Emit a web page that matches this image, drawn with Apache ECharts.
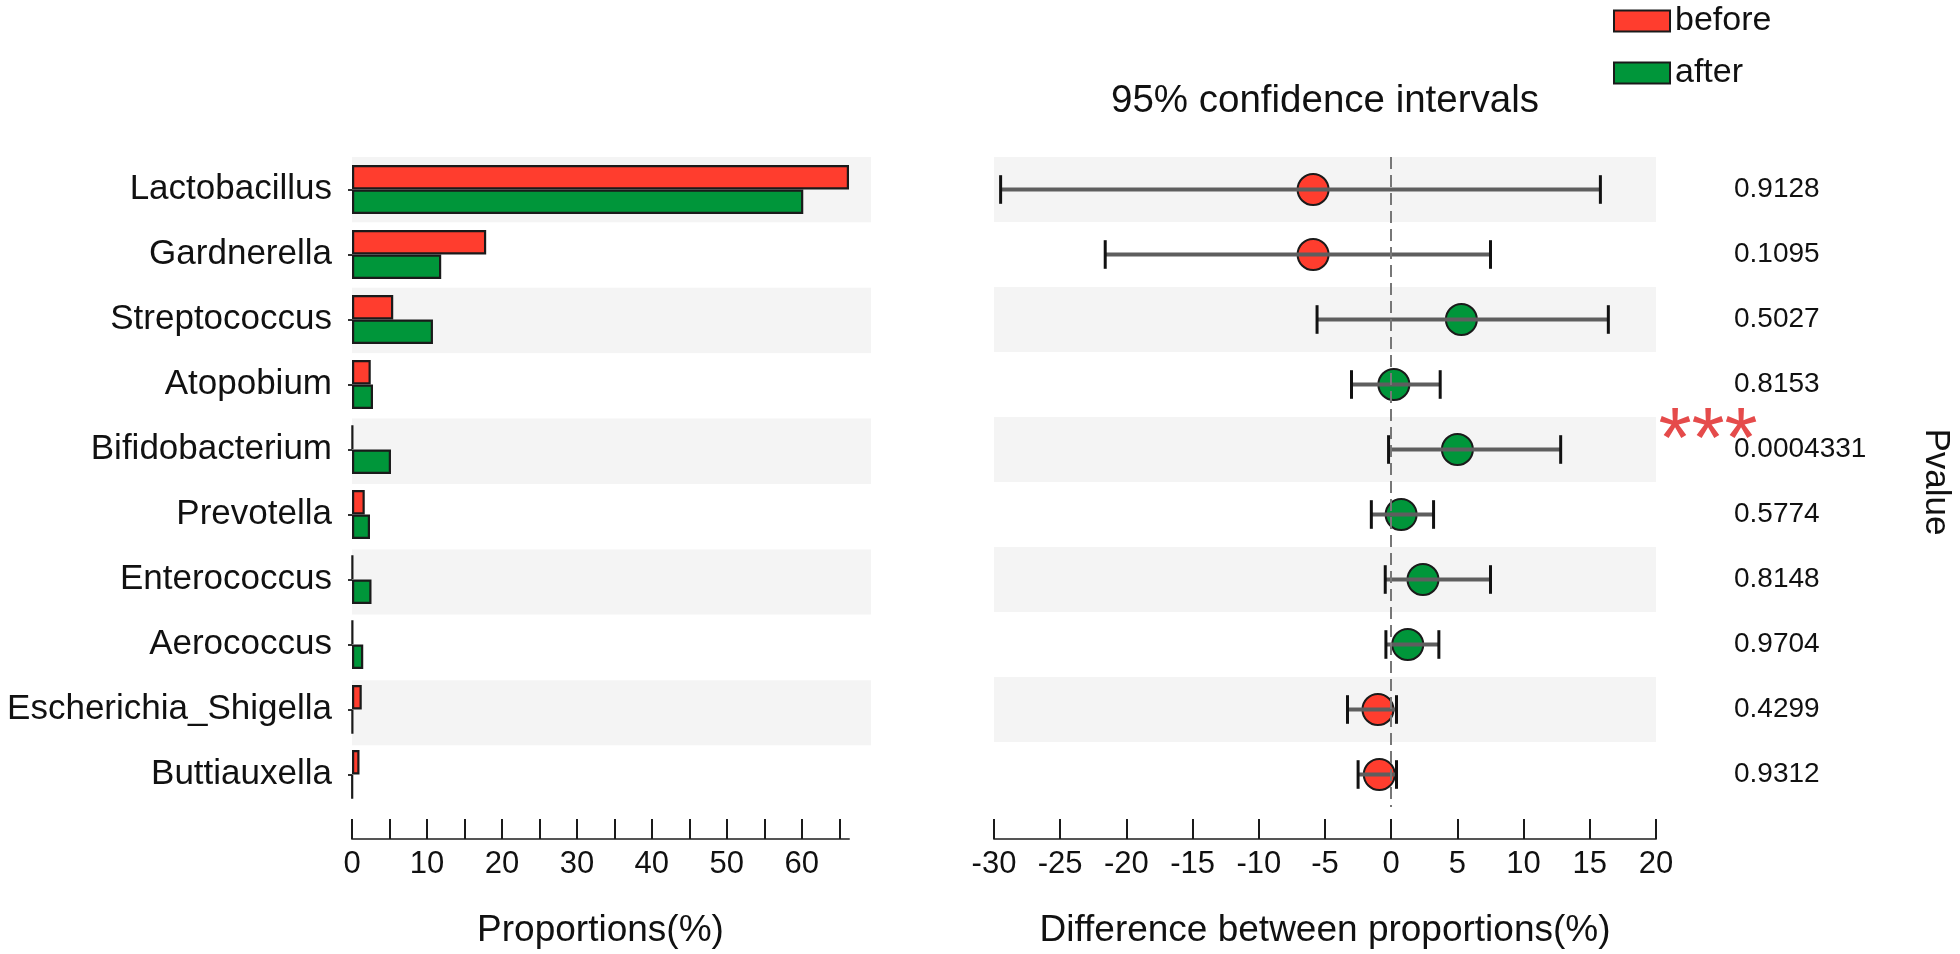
<!DOCTYPE html>
<html>
<head>
<meta charset="utf-8">
<script src="https://cdn.jsdelivr.net/npm/echarts@6/dist/echarts.min.js"></script>
<style>
html,body{margin:0;padding:0;background:#fff;}
#chart{width:1960px;height:954px;}
</style>
</head>
<body>
<div id="chart"></div>
<script>
const categories = ['Lactobacillus','Gardnerella','Streptococcus','Atopobium','Bifidobacterium','Prevotella','Enterococcus','Aerococcus','Escherichia_Shigella','Buttiauxella'];
const beforeVals = [66.3, 17.9, 5.5, 2.5, 0.1, 1.7, 0.1, 0.1, 1.3, 1.0];
const afterVals  = [60.2, 11.9, 10.8, 2.8, 5.2, 2.4, 2.6, 1.5, 0.1, 0.05];
const diffVals = [-5.9, -5.9, 5.3, 0.2, 5.0, 0.75, 2.4, 1.25, -1.0, -0.9];
const ciLow  = [-29.5, -21.6, -5.6, -3.0, -0.2, -1.5, -0.45, -0.4, -3.3, -2.5];
const ciHigh = [15.8, 7.5, 16.4, 3.7, 12.8, 3.2, 7.5, 3.6, 0.4, 0.4];
const pValues = ['0.9128','0.1095','0.5027','0.8153','0.0004331','0.5774','0.8148','0.9704','0.4299','0.9312'];
const sigMarks = ['', '', '', '', '***', '', '', '', '', ''];
const leftTicks = {min: 0, interval: 5};
const rightTicks = {min: -30, max: 20, interval: 5};

const RED = '#ff3d2e', GREEN = '#00963a';
const TXT = '#111111';
const FONT = "'Liberation Sans', Arial, sans-serif";
const chart = echarts.init(document.getElementById('chart'));

const titleGraphic = {type: 'text', x: 1325, y: 101, style: {text: '95% confidence intervals', fontSize: 38.5, fontFamily: FONT, fill: TXT, textAlign: 'center', textVerticalAlign: 'middle'}};

const option = {
  animation: false,
  backgroundColor: '#ffffff',
  textStyle: {fontFamily: FONT, color: TXT},
  legend: {
    data: ['before', 'after'],
    orient: 'vertical',
    left: 1608, top: -1,
    itemWidth: 56, itemHeight: 21, itemGap: 18,
    icon: 'rect',
    textStyle: {fontSize: 34, color: TXT, fontFamily: FONT}
  },
  grid: [
    {left: 352, top: 157, width: 497, height: 654},
    {left: 352, top: 157, width: 519, height: 654},
    {left: 994, top: 157, width: 662, height: 654}
  ],
  xAxis: [
    {
      gridIndex: 0, type: 'value', min: leftTicks.min, max: 'dataMax', interval: leftTicks.interval,
      offset: 32,
      axisLine: {show: true, lineStyle: {color: '#555', width: 2}},
      axisTick: {show: true, inside: true, length: 20, lineStyle: {color: '#1a1a1a', width: 2}},
      axisLabel: {fontSize: 31, color: TXT, margin: 10, showMaxLabel: false,
        formatter: v => (Math.abs(v % 10) < 1e-9 ? String(v) : '')},
      splitLine: {show: false},
      name: 'Proportions(%)', nameLocation: 'middle', nameGap: 73,
      nameTextStyle: {fontSize: 37, color: TXT, fontFamily: FONT}
    },
    {gridIndex: 1, type: 'value', show: false, min: 0, max: 1},
    {
      gridIndex: 2, type: 'value', min: rightTicks.min, max: rightTicks.max, interval: rightTicks.interval,
      offset: 32,
      axisLine: {show: true, lineStyle: {color: '#555', width: 2}},
      axisTick: {show: true, inside: true, length: 20, lineStyle: {color: '#1a1a1a', width: 2}},
      axisLabel: {fontSize: 31, color: TXT, margin: 10},
      splitLine: {show: false},
      name: 'Difference between proportions(%)', nameLocation: 'middle', nameGap: 73,
      nameTextStyle: {fontSize: 37, color: TXT, fontFamily: FONT}
    }
  ],
  yAxis: [
    {
      gridIndex: 0, type: 'category', data: categories, inverse: true,
      axisLine: {show: false},
      axisTick: {show: true, alignWithLabel: true, length: 4, lineStyle: {color: '#333', width: 2}},
      axisLabel: {fontSize: 35, color: TXT, margin: 20}
    },
    {
      gridIndex: 1, type: 'category', data: categories, inverse: true,
      axisLine: {show: false}, axisTick: {show: false}, axisLabel: {show: false},
      splitArea: {show: true, areaStyle: {color: ['#f4f4f4', '#ffffff']}}
    },
    {
      gridIndex: 2, type: 'category', data: categories, inverse: true,
      axisLine: {show: false}, axisTick: {show: false}, axisLabel: {show: false},
      splitArea: {show: true, areaStyle: {color: ['#f4f4f4', '#ffffff']}}
    },
    {
      gridIndex: 2, type: 'category', data: categories, inverse: true, position: 'right',
      axisLine: {show: false}, axisTick: {show: false},
      axisLabel: {fontSize: 28, color: TXT, margin: 78, align: 'left',
        formatter: (v, i) => pValues[i]},
      name: 'Pvalue', nameLocation: 'middle', nameRotate: -90, nameGap: 262,
      nameTextStyle: {fontSize: 35, color: TXT, fontFamily: FONT}
    }
  ],
  series: [
    {
      name: 'before', type: 'bar', xAxisIndex: 0, yAxisIndex: 0, data: beforeVals,
      barWidth: 24.5, barGap: '0%',
      itemStyle: {color: RED, borderColor: '#1a1a1a', borderWidth: 2.2}
    },
    {
      name: 'after', type: 'bar', xAxisIndex: 0, yAxisIndex: 0, data: afterVals,
      barWidth: 24.5, barGap: '0%',
      itemStyle: {color: GREEN, borderColor: '#1a1a1a', borderWidth: 2.2}
    },
    {
      name: 'diff', type: 'scatter', xAxisIndex: 2, yAxisIndex: 2, z: 3,
      symbolSize: 31,
      data: diffVals.map((d, i) => ({value: [d, i], itemStyle: {color: d < 0 ? RED : GREEN}})),
      itemStyle: {borderColor: '#1a1a1a', borderWidth: 2, opacity: 1},
      markLine: {
        silent: true, symbol: 'none', z: 6,
        label: {show: false},
        lineStyle: {color: '#777', width: 2, type: [12, 6]},
        data: [{xAxis: 0}]
      }
    },
    {
      name: 'ci', type: 'custom', xAxisIndex: 2, yAxisIndex: 2, z: 4,
      data: ciLow.map((l, i) => [l, ciHigh[i], i]),
      encode: {x: [0, 1], y: 2},
      renderItem: function (params, api) {
        const y = api.value(2);
        const p1 = api.coord([api.value(0), y]);
        const p2 = api.coord([api.value(1), y]);
        const h = api.size([0, 1])[1] * 0.22;
        return {
          type: 'group',
          children: [
            {type: 'line', shape: {x1: p1[0], y1: p1[1], x2: p2[0], y2: p2[1]}, style: {stroke: '#5e5e5e', lineWidth: 4}},
            {type: 'line', shape: {x1: p1[0], y1: p1[1] - h, x2: p1[0], y2: p1[1] + h}, style: {stroke: '#111', lineWidth: 3}},
            {type: 'line', shape: {x1: p2[0], y1: p2[1] - h, x2: p2[0], y2: p2[1] + h}, style: {stroke: '#111', lineWidth: 3}}
          ]
        };
      }
    }
  ],
  graphic: [titleGraphic]
};

chart.setOption(option);

// significance marker placed relative to the p-value label row
const sigIndex = sigMarks.findIndex(s => s);
if (sigIndex >= 0) {
  const yPix = chart.convertToPixel({yAxisIndex: 3}, categories[sigIndex]);
  chart.setOption({graphic: [
    titleGraphic,
    {type: 'text', x: 1708, y: yPix - 6, style: {text: sigMarks[sigIndex], fontSize: 85, fontFamily: FONT, fill: '#e54b4b', textAlign: 'center', textVerticalAlign: 'middle'}}
  ]});
}
</script>
</body>
</html>
